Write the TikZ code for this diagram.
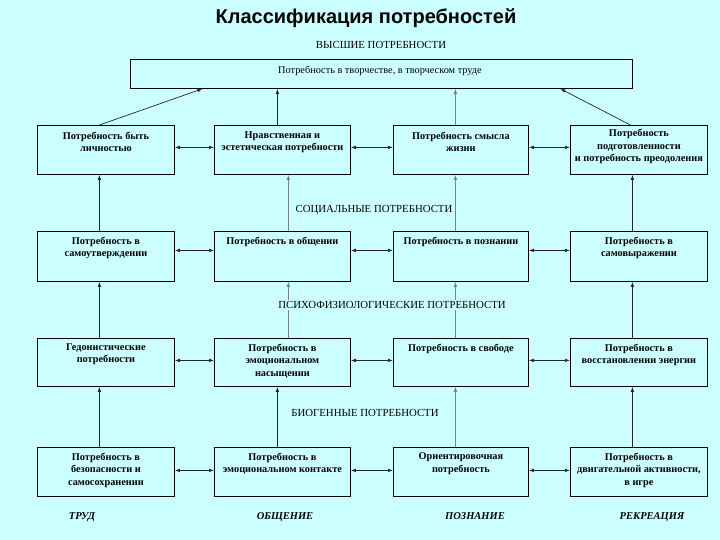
\documentclass[tikz,border=0pt]{standalone}
\usepackage{fontspec}
\setmainfont{Liberation Serif}
\newfontfamily\titlefont{Liberation Sans}
\usetikzlibrary{arrows.meta}
\definecolor{bgc}{RGB}{204,255,255}
\definecolor{lgray}{RGB}{120,130,130}
\begin{document}
\begin{tikzpicture}[x=1pt,y=-1pt,
  bx/.style n args={2}{draw=black, line width=0.8pt, fill=bgc, minimum width=#1, minimum height=#2, anchor=north west, inner sep=0pt},
  txt/.style={font=\fontsize{10.3}{12.5}\selectfont\bfseries, align=center, inner sep=0pt, anchor=north},
  hdr/.style={font=\fontsize{10.8}{12}\selectfont, fill=bgc, inner sep=1pt},
  foot/.style={font=\fontsize{10.5}{12}\selectfont\bfseries\itshape, anchor=base},
  tip/.tip={Latex[length=5pt,width=3.5pt]},
  varr/.style={-tip, line width=0.7pt, draw=black!85},
  garr/.style={-tip, line width=0.6pt, draw=lgray},
  harr/.style={tip-tip, line width=0.7pt, draw=black!85}]
\path[fill=bgc] (0,0) rectangle (720,540);
\useasboundingbox (0,0) rectangle (720,540);

\node[font=\titlefont\fontsize{20}{23}\selectfont\bfseries] (title) at (366,18) {Классификация потребностей};

\node[hdr] (h0) at (381,45) {ВЫСШИЕ ПОТРЕБНОСТИ};
\node[bx={502pt}{29pt}] (top) at (130,59) {};
\node[txt, anchor=center, font=\fontsize{10.3}{12}\selectfont] (ttop) at (380,71) {Потребность в творчестве, в творческом труде};

% row 1
\node[bx={137pt}{49pt}] (b11) at (37,125) {};
\node[bx={136pt}{49pt}] (b12) at (214,125) {};
\node[bx={135pt}{49pt}] (b13) at (393,125) {};
\node[bx={137pt}{49pt}] (b14) at (570,125) {};
% row 2
\node[bx={137pt}{50pt}] (b21) at (37,231) {};
\node[bx={136pt}{50pt}] (b22) at (214,231) {};
\node[bx={135pt}{50pt}] (b23) at (393,231) {};
\node[bx={137pt}{50pt}] (b24) at (570,231) {};
% row 3
\node[bx={137pt}{48pt}] (b31) at (37,338) {};
\node[bx={136pt}{48pt}] (b32) at (214,338) {};
\node[bx={135pt}{48pt}] (b33) at (393,338) {};
\node[bx={137pt}{48pt}] (b34) at (570,338) {};
% row 4
\node[bx={137pt}{49pt}] (b41) at (37,447) {};
\node[bx={136pt}{49pt}] (b42) at (214,447) {};
\node[bx={135pt}{49pt}] (b43) at (393,447) {};
\node[bx={137pt}{49pt}] (b44) at (570,447) {};

% texts
\node[txt] (t11) at ([yshift=-6.5pt]b11.north) {Потребность быть\\личностью};
\node[txt] (t12) at ([yshift=-6.5pt]b12.north) {Нравственная и\\эстетическая потребности};
\node[txt] (t13) at ([yshift=-6.5pt]b13.north) {Потребность смысла\\жизни};
\node[txt] (t14) at ([yshift=-4pt]b14.north) {Потребность\\подготовленности\\и потребность преодоления};

\node[txt] (t21) at ([yshift=-5.5pt]b21.north) {Потребность в\\самоутверждении};
\node[txt] (t22) at ([yshift=-5.5pt]b22.north) {Потребность в общении};
\node[txt] (t23) at ([yshift=-5.5pt]b23.north) {Потребность в познании};
\node[txt] (t24) at ([yshift=-5.5pt]b24.north) {Потребность в\\самовыражении};

\node[txt] (t31) at ([yshift=-5.5pt]b31.north) {Гедонистические\\потребности};
\node[txt] (t32) at ([yshift=-5.5pt]b32.north) {Потребность в\\эмоциональном\\насыщении};
\node[txt] (t33) at ([yshift=-5.5pt]b33.north) {Потребность в свободе};
\node[txt] (t34) at ([yshift=-5.5pt]b34.north) {Потребность в\\восстановлении энергии};

\node[txt] (t41) at ([yshift=-5.5pt]b41.north) {Потребность в\\безопасности и\\самосохранении};
\node[txt] (t42) at ([yshift=-5.5pt]b42.north) {Потребность в\\эмоциональном контакте};
\node[txt] (t43) at ([yshift=-5.5pt]b43.north) {Ориентировочная\\потребность};
\node[txt] (t44) at ([yshift=-5.5pt]b44.north) {Потребность в\\двигательной активности,\\в игре};

% arrows to top box
\draw[varr] ([xshift=-6.5pt]b11.north) -- ([xshift=-179pt]top.south);
\draw[varr] ([xshift=-5pt]b12.north) -- ([xshift=-104pt]top.south);
\draw[garr] ([xshift=-5.5pt]b13.north) -- ([xshift=74pt]top.south);
\draw[varr] ([xshift=-8.5pt]b14.north) -- ([xshift=179pt]top.south);

% vertical arrows between rows
\draw[varr] ([xshift=-6.5pt]b21.north) -- ([xshift=-6.5pt]b11.south);
\draw[garr] ([xshift=6pt]b22.north) -- ([xshift=6pt]b12.south);
\draw[garr] ([xshift=-5.5pt]b23.north) -- ([xshift=-5.5pt]b13.south);
\draw[varr] ([xshift=-6.5pt]b24.north) -- ([xshift=-6.5pt]b14.south);

\draw[varr] ([xshift=-6.5pt]b31.north) -- ([xshift=-6.5pt]b21.south);
\draw[garr] ([xshift=6pt]b32.north) -- ([xshift=6pt]b22.south);
\draw[garr] ([xshift=-5.5pt]b33.north) -- ([xshift=-5.5pt]b23.south);
\draw[varr] ([xshift=-6.5pt]b34.north) -- ([xshift=-6.5pt]b24.south);

\draw[varr] ([xshift=-6.5pt]b41.north) -- ([xshift=-6.5pt]b31.south);
\draw[varr] ([xshift=-5pt]b42.north) -- ([xshift=-5pt]b32.south);
\draw[garr] ([xshift=-5.5pt]b43.north) -- ([xshift=-5.5pt]b33.south);
\draw[varr] ([xshift=-6.5pt]b44.north) -- ([xshift=-6.5pt]b34.south);

% horizontal double arrows
\draw[harr] ([yshift=2.5pt]b11.east) -- ([yshift=2.5pt]b12.west);
\draw[harr] ([yshift=2.5pt]b12.east) -- ([yshift=2.5pt]b13.west);
\draw[harr] ([yshift=2.5pt]b13.east) -- ([yshift=2.5pt]b14.west);
\draw[harr] ([yshift=6pt]b21.east) -- ([yshift=6pt]b22.west);
\draw[harr] ([yshift=6pt]b22.east) -- ([yshift=6pt]b23.west);
\draw[harr] ([yshift=6pt]b23.east) -- ([yshift=6pt]b24.west);
\draw[harr] ([yshift=2pt]b31.east) -- ([yshift=2pt]b32.west);
\draw[harr] ([yshift=2pt]b32.east) -- ([yshift=2pt]b33.west);
\draw[harr] ([yshift=2pt]b33.east) -- ([yshift=2pt]b34.west);
\draw[harr] ([yshift=1.5pt]b41.east) -- ([yshift=1.5pt]b42.west);
\draw[harr] ([yshift=1.5pt]b42.east) -- ([yshift=1.5pt]b43.west);
\draw[harr] ([yshift=1.5pt]b43.east) -- ([yshift=1.5pt]b44.west);

% section headers
\node[hdr] (h1) at (374,210) {СОЦИАЛЬНЫЕ ПОТРЕБНОСТИ};
\node[hdr] (h2) at (392,305) {ПСИХОФИЗИОЛОГИЧЕСКИЕ ПОТРЕБНОСТИ};
\node[hdr] (h3) at (365,413) {БИОГЕННЫЕ ПОТРЕБНОСТИ};

% footer
\node[foot] (f1) at (82,519) {ТРУД};
\node[foot] (f2) at (285,519) {ОБЩЕНИЕ};
\node[foot] (f3) at (475,519) {ПОЗНАНИЕ};
\node[foot] (f4) at (652,519) {РЕКРЕАЦИЯ};
\end{tikzpicture}
\end{document}
